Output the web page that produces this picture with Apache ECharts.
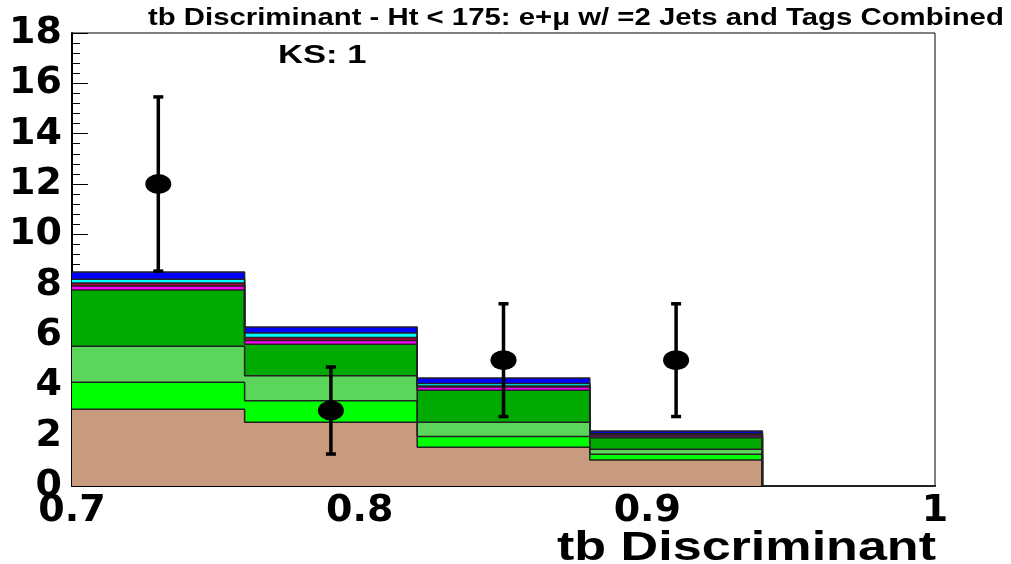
<!DOCTYPE html>
<html>
<head>
<meta charset="utf-8">
<script src="https://cdn.jsdelivr.net/npm/echarts@6/dist/echarts.min.js"></script>
<style>
  html, body { margin: 0; padding: 0; background: #fff; }
  #chart { width: 1011px; height: 564px; }
</style>
</head>
<body>
<div id="chart"></div>
<script>
// ---- data ----
const binEdges = [0.70, 0.76, 0.82, 0.88, 0.94, 1.00];
const binCenters = [0.73, 0.79, 0.85, 0.91];
// stacked MC layers (bottom to top), per bin
const tan         = [3.05, 2.53, 1.54, 1.03, 0];
const brightGreen = [1.07, 0.86, 0.43, 0.23, 0];
const lightGreen  = [1.43, 0.99, 0.56, 0.20, 0];
const darkGreen   = [2.24, 1.25, 1.27, 0.46, 0];
const magenta     = [0.16, 0.15, 0.13, 0.07, 0];
const red         = [0.12, 0.12, 0.04, 0.06, 0];
const cyan        = [0.15, 0.18, 0.10, 0.04, 0];
const blue        = [0.28, 0.24, 0.22, 0.10, 0];
// data points
const dataCounts = [12, 3, 5, 5];
const dataErrors = [3.46, 1.73, 2.24, 2.24];
// tick labels
const xTickValues = [0.7, 0.8, 0.9, 1.0];
const xTickLabels = ['0.7', '0.8', '0.9', '1'];
const yTickLabels = ['0', '2', '4', '6', '8', '10', '12', '14', '16', '18'];

const titleText = 'tb Discriminant - Ht < 175: e+\u03bc w/ =2 Jets and Tags Combined';
const ksText = 'KS: 1';
const xTitle = 'tb Discriminant';

// ---- build ----
const layers = [
  { v: tan, color: '#c89a7e' },
  { v: brightGreen, color: '#00ff00' },
  { v: lightGreen, color: '#5bd55b' },
  { v: darkGreen, color: '#00aa00' },
  { v: magenta, color: '#ff00ff' },
  { v: red, color: '#b0003a' },
  { v: cyan, color: '#00ffff' },
  { v: blue, color: '#0000ff' }
];
let cum = new Array(binEdges.length - 1).fill(0);
const cumLayers = layers.map(l => {
  cum = cum.map((c, i) => c + l.v[i]);
  return { v: cum.slice(), color: l.color };
});
function stepData(vals) {
  const d = vals.map((y, i) => [binEdges[i], y]);
  d.push([binEdges[binEdges.length - 1], vals[vals.length - 1]]);
  return d;
}
const histSeries = cumLayers.slice().reverse().map(l => ({
  type: 'line',
  step: 'end',
  data: stepData(l.v),
  symbol: 'none',
  silent: true,
  lineStyle: { color: '#222', width: 1.5 },
  areaStyle: { color: l.color, opacity: 1, origin: 'start' },
  z: 2
}));

const chart = echarts.init(document.getElementById('chart'), null, { renderer: 'canvas' });
const option = {
  animation: false,
  backgroundColor: '#fff',
  grid: {
    left: 72, right: 76, top: 33, bottom: 78,
    show: true, borderColor: '#000', borderWidth: 1, backgroundColor: 'transparent'
  },
  xAxis: {
    type: 'value', min: 0.7, max: 1.0, interval: 0.1,
    axisLine: { show: true, lineStyle: { color: '#000', width: 2 } },
    axisTick: { show: false },
    splitLine: { show: false },
    axisLabel: {
      color: '#000', fontFamily: 'DejaVu Sans', fontWeight: 'bold', fontSize: 38, margin: 6,
      formatter: v => {
        const i = xTickValues.findIndex(t => Math.abs(t - v) < 1e-6);
        return i >= 0 ? xTickLabels[i] : '';
      }
    }
  },
  yAxis: {
    type: 'value', min: 0, max: 18, interval: 2,
    axisLine: { show: true, lineStyle: { color: '#000', width: 2 } },
    axisTick: { show: true, inside: true, length: 16, lineStyle: { color: '#000', width: 1 } },
    minorTick: { show: true, splitNumber: 5, length: 8, lineStyle: { color: '#000', width: 1 } },
    splitLine: { show: false },
    axisLabel: {
      color: '#000', fontFamily: 'DejaVu Sans', fontWeight: 'bold', fontSize: 38, margin: 10,
      formatter: v => yTickLabels[Math.round(v / 2)]
    }
  },
  series: histSeries.concat([
    {
      type: 'custom',
      z: 5,
      silent: true,
      data: binCenters.map((x, i) => [x, dataCounts[i], dataErrors[i]]),
      renderItem: (params, api) => {
        const x = api.value(0), y = api.value(1), e = api.value(2);
        const top = api.coord([x, y + e]);
        const bot = api.coord([x, y - e]);
        const cap = 5;
        const st = { stroke: '#000', lineWidth: 3.5 };
        return {
          type: 'group',
          children: [
            { type: 'line', shape: { x1: top[0], y1: top[1], x2: bot[0], y2: bot[1] }, style: st },
            { type: 'line', shape: { x1: top[0] - cap, y1: top[1], x2: top[0] + cap, y2: top[1] }, style: st },
            { type: 'line', shape: { x1: bot[0] - cap, y1: bot[1], x2: bot[0] + cap, y2: bot[1] }, style: st }
          ]
        };
      }
    },
    {
      type: 'scatter',
      z: 6,
      silent: true,
      symbol: 'circle',
      symbolSize: [26, 20],
      itemStyle: { color: '#000', opacity: 1 },
      data: binCenters.map((x, i) => [x, dataCounts[i]])
    }
  ]),
  graphic: [
    {
      type: 'text', x: 148, y: 19, scaleX: 1.275,
      style: { text: titleText, fontFamily: 'Liberation Sans', fontWeight: 'bold', fontSize: 23,
               fill: '#000', textAlign: 'left', textVerticalAlign: 'middle' }
    },
    {
      type: 'text', x: 278, y: 56, scaleX: 1.33,
      style: { text: ksText, fontFamily: 'Liberation Sans', fontWeight: 'bold', fontSize: 26,
               fill: '#000', textAlign: 'left', textVerticalAlign: 'middle' }
    },
    {
      type: 'text', x: 557, y: 549, scaleX: 1.27,
      style: { text: xTitle, fontFamily: 'Liberation Sans', fontWeight: 'bold', fontSize: 41,
               fill: '#000', textAlign: 'left', textVerticalAlign: 'middle' }
    }
  ]
};
chart.setOption(option);
</script>
</body>
</html>
